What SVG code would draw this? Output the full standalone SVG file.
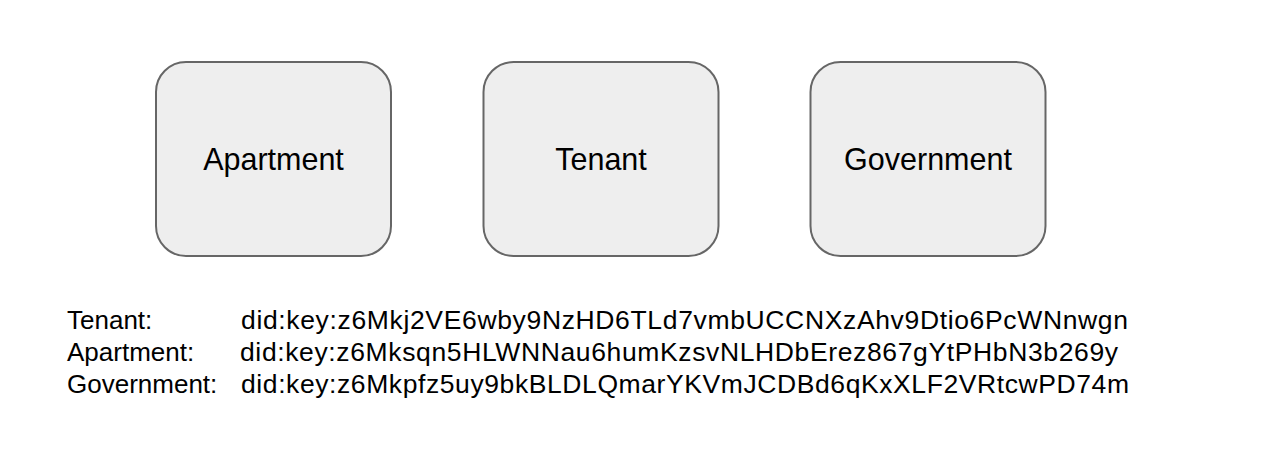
<svg xmlns="http://www.w3.org/2000/svg" width="1268" height="458" viewBox="0 0 1268 458">
<style>
.node{fill:#eeeeee;stroke:#666666;stroke-width:2}
.lbl{font-family:"Liberation Sans",Arial,sans-serif;font-size:30.5px;fill:#000;text-anchor:middle}
.t{font-family:"Liberation Sans",Arial,sans-serif;font-size:26px;fill:#000}
.d{font-family:"Liberation Sans",Arial,sans-serif;font-size:26.5px;fill:#000}
</style>
<rect width="1268" height="458" fill="#ffffff"/>
<g id="connectors"></g>
<g id="node-apartment">
<rect class="node" x="156" y="62" width="235" height="194" rx="30" ry="30"/>
<text class="lbl" x="273.5" y="170">Apartment</text>
</g>
<g id="node-tenant">
<rect class="node" x="483.5" y="62" width="235" height="194" rx="30" ry="30"/>
<text class="lbl" x="601" y="170">Tenant</text>
</g>
<g id="node-government">
<rect class="node" x="810.5" y="62" width="235" height="194" rx="30" ry="30"/>
<text class="lbl" x="928" y="170">Government</text>
</g>
<g id="did-list">
<text class="t" x="67" y="329">Tenant:</text>
<text class="d" x="241" y="329" textLength="887" lengthAdjust="spacing">did:key:z6Mkj2VE6wby9NzHD6TLd7vmbUCCNXzAhv9Dtio6PcWNnwgn</text>
<text class="t" x="67" y="361">Apartment:</text>
<text class="d" x="240" y="361" textLength="878" lengthAdjust="spacing">did:key:z6Mksqn5HLWNNau6humKzsvNLHDbErez867gYtPHbN3b269y</text>
<text class="t" x="67" y="393">Government:</text>
<text class="d" x="241" y="393" textLength="888" lengthAdjust="spacing">did:key:z6Mkpfz5uy9bkBLDLQmarYKVmJCDBd6qKxXLF2VRtcwPD74m</text>
</g>
</svg>
